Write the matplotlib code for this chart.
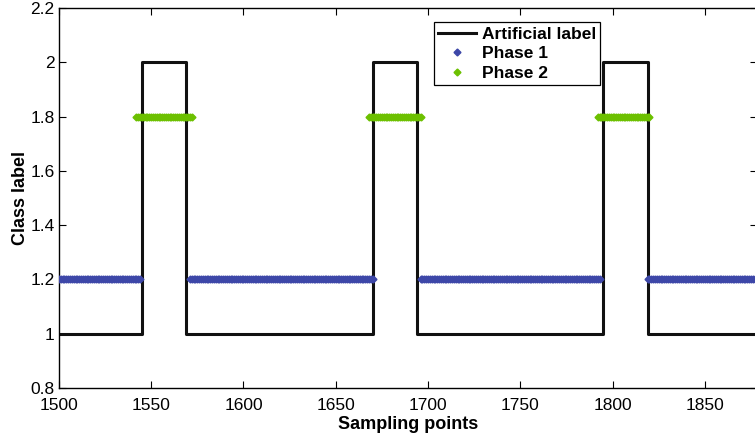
import matplotlib.pyplot as plt
import numpy as np
from matplotlib.ticker import FuncFormatter

plt.rcParams["font.family"] = ["Liberation Sans", "DejaVu Sans"]

# sampling window
x_start, x_end = 1500, 1880

# artificial label pulses (rise, fall) at class 2, else class 1
pulses = [(1545, 1569), (1670, 1694), (1795, 1819)]
label_low, label_high = 1, 2

# phase segments (first, last sample)
phase1_segments = [(1500, 1544), (1571, 1670), (1696, 1793), (1819, 1880)]
phase2_segments = [(1542, 1572), (1668, 1696), (1792, 1820)]
phase1_level = 1.2
phase2_level = 1.8

yticks = [0.8, 1, 1.2, 1.4, 1.6, 1.8, 2, 2.2]
xticks = [1500, 1550, 1600, 1650, 1700, 1750, 1800, 1850]

# step function of the label
lx = [x_start]
ly = [label_low]
for rise, fall in pulses:
    lx += [rise, rise, fall, fall]
    ly += [label_low, label_high, label_high, label_low]
lx.append(x_end)
ly.append(label_low)

p1 = np.concatenate([np.arange(a, b + 1) for a, b in phase1_segments])
p2 = np.concatenate([np.arange(a, b + 1) for a, b in phase2_segments])

fig = plt.figure(figsize=(7.55, 4.4), dpi=100)
ax = fig.add_axes([0.078, 0.118, 0.924, 0.864])

ax.plot(lx, ly, color="#111111", linewidth=2.2, label="Artificial label", zorder=2)
ax.plot(p1, np.full(p1.shape, phase1_level), linestyle="none", marker="D",
        markersize=3.5, color="#3d47a8", label="Phase 1", zorder=3)
ax.plot(p2, np.full(p2.shape, phase2_level), linestyle="none", marker="D",
        markersize=3.5, color="#6cc000", label="Phase 2", zorder=3)

ax.set_xlim(1500, 1878)
ax.set_ylim(0.8, 2.2)
ax.set_xticks(xticks)
ax.set_yticks(yticks)
ax.yaxis.set_major_formatter(FuncFormatter(lambda v, _: f"{v:g}"))
ax.tick_params(direction="in", top=True, right=True, labelsize=12.5, length=5)
ax.tick_params(axis="x", pad=7)
ax.tick_params(axis="y", pad=3)
for s in ax.spines.values():
    s.set_linewidth(1.0)

ax.set_xlabel("Sampling points", fontsize=13, fontweight="bold", labelpad=2)
ax.set_ylabel("Class label", fontsize=13, fontweight="bold", labelpad=1)

leg = ax.legend(loc="upper left", bbox_to_anchor=(0.525, 0.985), fancybox=False,
                edgecolor="black", framealpha=1, borderpad=0.25, labelspacing=0.25,
                handlelength=2.2, handletextpad=0.3, markerscale=1.0,
                prop={"weight": "bold", "size": 12.5})
leg.get_frame().set_linewidth(0.9)

fig.savefig("out.png", dpi=100)
